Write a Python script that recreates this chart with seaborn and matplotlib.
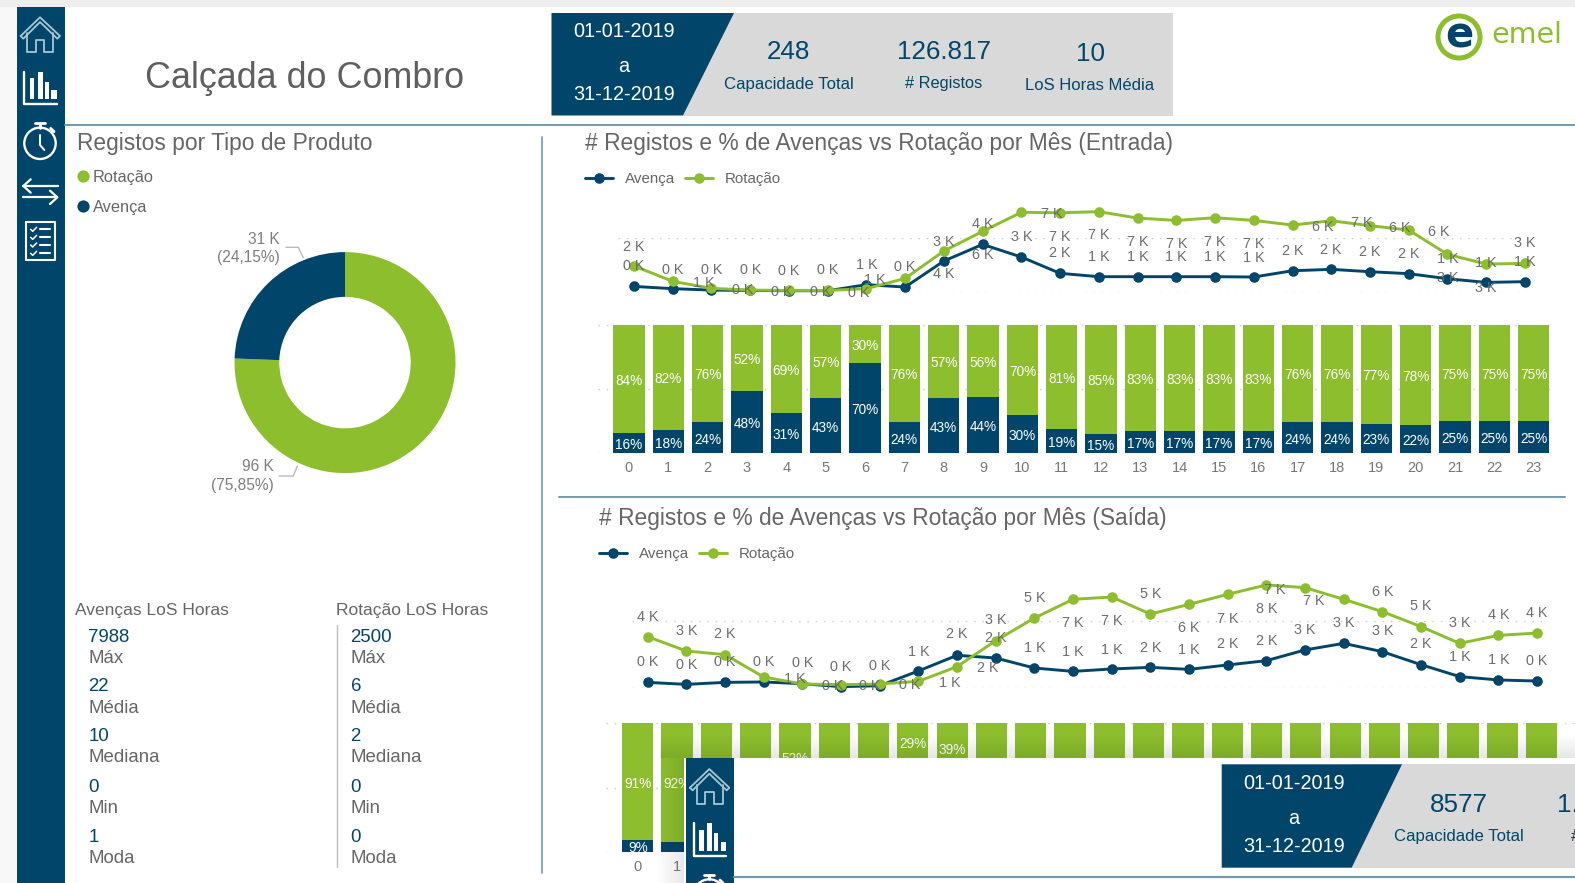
import numpy as np
import matplotlib
matplotlib.use("Agg")
import matplotlib.pyplot as plt
from matplotlib.patches import Rectangle, Polygon, Circle
import seaborn as sns

sns.set_theme(style="white")
plt.rcParams["font.family"] = ["Liberation Sans", "DejaVu Sans"]

NAVY, GREEN, GREY, LINE = "#01466A", "#8CBE2D", "#666666", "#6F9BB2"
W, H = 1575, 883

# ---------- data ----------
hours = [str(h) for h in range(24)]
donut_labels = ["Rotação", "Avença"]
donut_values = [96000, 31000]
donut_shares = [75.85, 24.15]

entry_rot = [2380, 960, 310, 150, 120, 120, 280, 1230, 3770, 5590, 7350, 7310,
             7410, 6820, 6600, 6850, 6600, 6170, 6570, 6110, 5710, 3460, 2560, 2620]
entry_av = [490, 280, 150, 120, 90, 90, 650, 430, 2840, 4380, 3210, 1700,
            1390, 1390, 1390, 1390, 1360, 1940, 2070, 1850, 1670, 1200, 860, 930]
entry_rot_lbl = [2, 1, 0, 0, 0, 0, None, 1, 4, 6, 7, 7, 7, 7, 7, 7, 7, 6, 7, 6, 6, 3, 3, 3]
entry_av_lbl = [0, 0, 0, 0, 0, 0, 1, 0, 3, 4, 3, 2, 1, 1, 1, 1, 1, 2, 2, 2, 2, 1, 1, 1]
entry_rot_pct = [84, 82, 76, 52, 69, 57, 30, 76, 57, 56, 70, 81, 85, 83, 83, 83, 83, 76, 76, 77, 78, 75, 75, 75]
entry_av_pct = [16, 18, 24, 48, 31, 43, 70, 24, 43, 44, 30, 19, 15, 17, 17, 17, 17, 24, 24, 23, 22, 25, 25, 25]

exit_rot = [3830, 2760, 2490, 820, 300, 250, 300, 500, 1590, 3530, 5220, 6620,
            6790, 5520, 6240, 6990, 7690, 7490, 6620, 5700, 4580, 3330, 3930, 4100]
exit_av = [420, 270, 420, 450, 320, 100, 170, 1270, 2440, 2240, 1490, 1240,
           1420, 1540, 1390, 1720, 2040, 2840, 3330, 2710, 1740, 850, 600, 520]
exit_rot_lbl = [4, 3, 2, 1, 0, 0, 0, 1, 2, 3, 5, 7, 7, 5, 6, 7, 8, 7, 7, 6, 5, 3, 4, 4]
exit_av_lbl = [0, 0, 0, 0, 0, 0, 0, 1, 2, 2, 1, 1, 1, 2, 1, 2, 2, 3, 3, 3, 2, 1, 1, 0]
exit_rot_pct = [91, 92, 85, 65, 52, 70, 64, 29, 39, 61, 78, 84, 83, 78, 82, 80, 79, 73, 67, 68, 72, 80, 87, 89]
exit_av_pct = [9, 8, 15, 35, 48, 30, 36, 71, 61, 39, 22, 16, 17, 22, 18, 20, 21, 27, 33, 32, 28, 20, 13, 11]

stat_names = ["Máx", "Média", "Mediana", "Min", "Moda"]
stat_avenca = ["7988", "22", "10", "0", "1"]
stat_rotacao = ["2500", "6", "2", "0", "0"]

# label offsets (reference px * 3; dx right, dy up)
entry_rot_off = [(0, 60), (92, -1), (0, 57), (0, 62), (0, 60), (0, 63), (-25, -9), (-90, -1), (0, -67), (0, -69),
                 (92, -1), (0, -70), (0, -67), (0, -68), (0, -67), (0, -69), (0, -69), (92, -3), (92, -3), (90, -3),
                 (90, -3), (0, -69), (0, -70), (0, 63)]
entry_av_off = [(0, 63), (0, 60), (93, 2), (95, -1), (94, -2), (92, -3), (0, 62), (0, 63), (0, 61), (0, 63), (0, 63),
                (0, 63), (0, 63), (0, 63), (0, 63), (0, 63), (0, 61), (0, 61), (0, 62), (0, 62), (0, 61), (0, 63),
                (0, 62), (0, 63)]
exit_rot_off = [(0, 63), (0, 62), (0, 64), (93, -4), (91, -3), (85, -1), (91, 0), (93, -1), (92, -1), (0, 64), (0, 62),
                (0, -67), (0, -69), (0, 63), (0, -69), (0, -70), (0, -69), (-90, -4), (-90, -3), (0, 62), (0, 66),
                (0, 65), (0, 63), (0, 62)]
exit_av_off = [(0, 63), (0, 62), (0, 63), (0, 62), (0, 64), (0, 63), (0, 63), (0, 61), (0, 66), (0, 62), (0, 64),
               (0, 62), (0, 61), (0, 62), (0, 62), (0, 65), (0, 62), (0, 62), (0, 65), (0, 64), (0, 64), (0, 62),
               (0, 63), (0, 62)]

fig = plt.figure(figsize=(W / 100, H / 100), dpi=100, facecolor="white")


def px_axes(x0, y0, x1, y1, z=2):
    ax = fig.add_axes([x0 / W, 1 - y1 / H, (x1 - x0) / W, (y1 - y0) / H], zorder=z)
    ax.patch.set_alpha(0)
    return ax


def dotted(ax, ys):
    for y in ys:
        ax.axhline(y, color="#C8C8C8", lw=1.0, ls=(0, (1, 5)), zorder=0)


def line_panel(box, xlim, rot, av, rot_lbl, av_lbl, rot_off, av_off):
    ax = px_axes(*box)
    dotted(ax, [0, 5000])
    x = list(range(24))
    for vals, col in ((av, NAVY), (rot, GREEN)):
        sns.lineplot(x=x, y=vals, ax=ax, color=col, lw=2.1, marker="o", ms=7.6, mew=0,
                     errorbar=None, clip_on=False, zorder=3)
    for vals, lbl, off in ((av, av_lbl, av_off), (rot, rot_lbl, rot_off)):
        for i, (v, t, o) in enumerate(zip(vals, lbl, off)):
            if t is None:
                continue
            ax.annotate(f"{t} K", (i, v), xytext=(o[0] / 3, o[1] / 3 - 1), textcoords="offset pixels",
                        ha="center", va="center", fontsize=10.4, color=GREY, alpha=.95, zorder=4,
                        annotation_clip=False)
    ax.set_xlim(*xlim)
    ax.set_ylim(0, 5000)
    ax.axis("off")


def bar_panel(box, xlim, rot, av):
    ax = px_axes(*box)
    dotted(ax, [0, 50, 100])
    total = [a + r for a, r in zip(av, rot)]
    sns.barplot(x=hours, y=total, ax=ax, color=GREEN, saturation=1, width=0.795, linewidth=0, zorder=2)
    sns.barplot(x=hours, y=av, ax=ax, color=NAVY, saturation=1, width=0.795, linewidth=0, zorder=2)
    for i, (r, a) in enumerate(zip(rot, av)):
        if a >= 9:
            ax.annotate(f"{a}%", (i, a / 2), xytext=(0, -2), textcoords="offset pixels", ha="center", va="center",
                        color="white", fontsize=9.8, zorder=3)
        ax.annotate(f"{r}%", (i, a + r / 2), xytext=(0, -2), textcoords="offset pixels", ha="center", va="center",
                    color="white", fontsize=9.8, zorder=3)
    ax.set_xlim(*xlim)
    ax.set_ylim(0, 100)
    ax.set_yticks([])
    ax.tick_params(axis="x", length=0, pad=5.5, labelsize=10.5, labelcolor="#777777")
    ax.set(xlabel=None, ylabel=None)
    sns.despine(ax=ax, left=True, bottom=True)


# ---------- charts ----------
line_panel((618, 237.7, 1535, 291.7), (-0.413, 23.26), entry_rot, entry_av, entry_rot_lbl, entry_av_lbl,
           entry_rot_off, entry_av_off)
bar_panel((598, 324.5, 1557, 453.3), (-0.788, 23.59), entry_rot_pct, entry_av_pct)
line_panel((632.3, 621, 1546.7, 688), (-0.398, 23.25), exit_rot, exit_av, exit_rot_lbl, exit_av_lbl,
           exit_rot_off, exit_av_off)
bar_panel((605.7, 723, 1575, 852), (-0.817, 23.85), exit_rot_pct, exit_av_pct)

dax = px_axes(345 - 110.5, 362.6 - 110.5, 345 + 110.5, 362.6 + 110.5)
dax.pie(donut_values, colors=[GREEN, NAVY], startangle=90, counterclock=False, radius=1,
        wedgeprops=dict(width=0.405, linewidth=0))
dax.set_xlim(-1, 1)
dax.set_ylim(-1, 1)

# ---------- page furniture, in pixel coordinates ----------
ov = fig.add_axes([0, 0, 1, 1], zorder=10)
ov.patch.set_alpha(0)
ov.axis("off")


def T(x, y, s, size=11, color=GREY, ha="left", va="center", **k):
    return ov.text(x, y + size * 0.13, s, fontsize=size, color=color, ha=ha, va=va, **k)


def L(xs, ys, color="white", lw=1.6, **k):
    ov.plot(xs, ys, color=color, lw=lw, solid_capstyle="round", solid_joinstyle="round", **k)


def R(x0, y0, x1, y1, color, z=1):
    ov.add_patch(Rectangle((x0, y0), x1 - x0, y1 - y0, fc=color, ec="none", zorder=z))


def icons(dx, dy, z=3):
    k = dict(zorder=z, clip_on=True)
    def P(pts, color="white", lw=1.6):
        L([dx + p[0] / 3 for p in pts], [dy + p[1] / 3 for p in pts], color=color, lw=lw, **k)
    soft = "#A9C6D4"
    P([(62, 108), (120, 52), (180, 108), (172, 116), (120, 66), (70, 116), (62, 108)], soft, 1.3)
    P([(82, 100), (82, 157), (108, 157), (108, 120), (133, 120), (133, 157), (160, 157), (160, 100)], soft, 1.3)
    P([(73, 215), (73, 312), (170, 312)], "white", 1.7)
    for a, b, top in ((90, 103, 235), (114, 128, 215), (135, 147, 245), (154, 170, 270)):
        ov.add_patch(Rectangle((dx + a / 3, dy + top / 3), (b - a) / 3, (297 - top) / 3, fc="white", ec="none", **k))
    ov.add_patch(Circle((dx + 40, dy + 143.3), 15.7, fc="none", ec="white", lw=1.7, **k))
    P([(105, 370), (135, 370)], "white", 2)
    P([(120, 370), (120, 383)], "white", 2)
    P([(120, 405), (120, 435), (133, 450)], "white", 1.4)
    P([(152, 385), (162, 395)], "white", 2)
    P([(70, 558), (175, 558)])
    P([(92, 538), (70, 558), (92, 578)])
    P([(68, 592), (172, 592)])
    P([(150, 572), (172, 592), (150, 612)])
    P([(78, 665), (165, 665), (165, 780), (78, 780), (78, 665)], "white", 1.5)
    for y in (688, 712, 735, 760):
        P([(92, y), (98, y + 6), (110, y - 6)], "white", 1.1)
        P([(120, y), (150, y)], "white", 1.5)


def date_box(x0, x1, x2, y0, y1, cx, ys):
    ov.add_patch(Polygon([(x0, y0), (x1, y0), (x2, y1), (x0, y1)], fc=NAVY, ec="none", zorder=3))
    for y, s in zip(ys, ["01-01-2019", "a", "31-12-2019"]):
        T(cx, y, s, 14.3, "white", ha="center", zorder=4)


# page edge
R(0, 0, W, 7, "#EEEEEE")
R(0, 7, 17, H, "#F8F8F8")
R(17, 7, 65, H, NAVY)
icons(0, 0)

L([65, W], [125, 125], LINE, 1.4, zorder=2)
L([542, 542], [137, 873], LINE, 1.2, zorder=2)
L([559, 1565], [496.5, 496.5], LINE, 1.4, zorder=2)

T(304.5, 75.5, "Calçada do Combro", 25.8, "#5F5F5F", ha="center")

# KPI strip
R(683, 13, 1173, 115.5, "#D9D9D9")
date_box(551.5, 734, 683, 13, 115.5, 624, [30, 65, 92.5])
for x, y1, y2, a, b, sz in ((788.5, 50, 82.5, "248", "Capacidade Total", 12.1),
                            (944, 50, 81.5, "126.817", "# Registos", 11.8),
                            (1090, 52, 83.5, "10", "LoS Horas Média", 12.0)):
    T(x, y1, a, 18.7, NAVY, ha="center", zorder=4)
    T(x, y2, b, sz, NAVY, ha="center", zorder=4)

# logo
ov.add_patch(Circle((1459, 37), 21, fc="none", ec=GREEN, lw=3.6, zorder=3))
ov.text(1459, 36, "e", fontsize=30, color=NAVY, ha="center", va="center", weight="bold",
        family="DejaVu Sans", zorder=4)
ov.text(1491, 35, "emel", fontsize=20.5, color=GREEN, va="center", weight="normal",
        family="DejaVu Sans", zorder=4)

# section titles
T(77, 141, "Registos por Tipo de Produto", 16.4)
T(584.6, 141, "# Registos e % de Avenças vs Rotação por Mês (Entrada)", 16.4)
T(598.7, 516, "# Registos e % de Avenças vs Rotação por Mês (Saída)", 16.4)

# donut legend and labels
for y, c, s in ((175.8, GREEN, donut_labels[0]), (206, NAVY, donut_labels[1])):
    ov.plot([83.4], [y], "o", color=c, ms=8.8, mew=0)
    T(92.5, y, s, 11.8)
DL = "#7F7F7F"
T(280, 237.8, f"{donut_values[1] // 1000} K", 11.2, DL, ha="right")
T(280, 256.2, "(" + f"{donut_shares[1]:.2f}".replace(".", ",") + "%)", 11.2, DL, ha="right")
L([286, 298.3, 303.3], [247.3, 247.3, 257.7], "#BBBBBB", 1)
T(274, 465.5, f"{donut_values[0] // 1000} K", 11.2, DL, ha="right")
T(274, 484.2, "(" + f"{donut_shares[0]:.2f}".replace(".", ",") + "%)", 11.2, DL, ha="right")
L([279, 293.3, 297.3], [476, 476, 466], "#BBBBBB", 1)


def line_legend(x, y):
    for x0, c, s in ((x, NAVY, "Avença"), (x + 100, GREEN, "Rotação")):
        L([x0, x0 + 28], [y, y], c, 2.1)
        ov.plot([x0 + 14], [y], "o", color=c, ms=7.6, mew=0)
        T(x0 + 40, y, s, 10.9)


line_legend(585, 177.8)
line_legend(599, 552.5)

# LoS blocks
T(75.3, 609, "Avenças LoS Horas", 12.5)
T(336.5, 609, "Rotação LoS Horas", 12.5)
L([336.5, 336.5], [625, 867], "#BFBFBF", 1)
value_y = [636, 685, 735, 786, 836]
name_y = [657, 707, 755.5, 807, 857]
for vals, x in ((stat_avenca, 88.4), (stat_rotacao, 350.6)):
    for v, n, yv, yn in zip(vals, stat_names, value_y, name_y):
        T(x, yv, v, 13.4, NAVY)
        T(x, yn, n, 13.4)

# second dashboard overlapping the bottom right
grad = np.zeros((40, 1, 4))
grad[..., 3] = np.linspace(0, .10, 40)[:, None]
ov.imshow(grad, extent=(660, W, 758, 734), aspect="auto", zorder=5, interpolation="bilinear")
grad2 = np.zeros((1, 40, 4))
grad2[..., 3] = np.linspace(0, .09, 40)[None, :]
ov.imshow(grad2, extent=(655, 684, H, 758), aspect="auto", zorder=5, interpolation="bilinear")
R(684, 758, W, H, "white", 6)
R(686, 758, 734, H, NAVY, 6.5)
icons(669.3, 751.7, 7)
L([734, W], [876.7, 876.7], LINE, 1.6, zorder=7)
ov.add_patch(Polygon([(1352, 764.3), (1402, 764.3), (W, 764.3), (W, 867.7), (1352, 867.7)],
                     fc="#D9D9D9", ec="none", zorder=7))
ov.add_patch(Polygon([(1221.7, 764.3), (1402, 764.3), (1351.7, 867.7), (1221.7, 867.7)],
                     fc=NAVY, ec="none", zorder=8))
for y, s in zip([782, 817, 845], ["01-01-2019", "a", "31-12-2019"]):
    T(1294, y, s, 14.3, "white", ha="center", zorder=9)
T(1459, 803, "8577", 18.7, NAVY, ha="center", zorder=9)
T(1459, 835, "Capacidade Total", 12.1, NAVY, ha="center", zorder=9)
T(1557, 803, "1.", 18.7, NAVY, zorder=9)
T(1571, 835, "#", 12.1, NAVY, zorder=9)

ov.set_xlim(0, W)
ov.set_ylim(H, 0)
fig.savefig("out.png", dpi=100, facecolor="white")
